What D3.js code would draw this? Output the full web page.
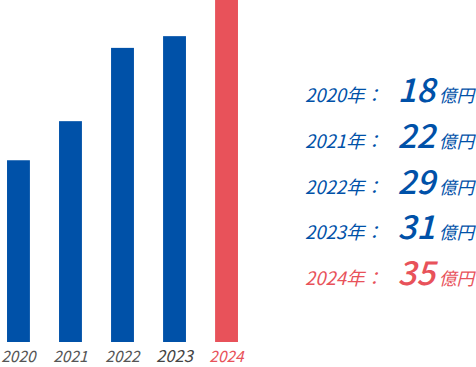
<!DOCTYPE html>
<html>
<head>
<meta charset="utf-8">
<script src="https://cdn.jsdelivr.net/npm/d3@7"></script>
<style>
  html, body { margin: 0; padding: 0; background: #fff; }
  svg { display: block; font-family: "Noto Sans CJK JP", "Noto Sans", sans-serif; }
</style>
</head>
<body>
<div id="chart"></div>
<script>
// dati
const years = ["2020", "2021", "2022", "2023", "2024"];
const values = [18, 22, 29, 31, 35];           // etichette a destra
const barValues = [18.6, 22.6, 30.1, 31.3, 35];
const unit = "億円";
const blue = "#0051a8", red = "#e8525a";
const barColors = [blue, blue, blue, blue, red];

const width = 476, height = 367;

const svg = d3.select("#chart")
    .append("svg")
    .attr("width", width)
    .attr("height", height);

// scale delle barre
const x = d3.scaleBand()
    .domain(years)
    .range([0, 245])
    .paddingInner(0.56)
    .paddingOuter(0.135);

const y = d3.scaleLinear()
    .domain([0, 35])
    .range([342, 0]);

// barre
svg.append("g")
    .selectAll("rect")
    .data(years)
    .join("rect")
    .attr("x", d => x(d))
    .attr("y", (d, i) => y(barValues[i]))
    .attr("width", x.bandwidth())
    .attr("height", (d, i) => y(0) - y(barValues[i]))
    .attr("fill", (d, i) => barColors[i]);

// etichette asse x
svg.append("g")
    .selectAll("text")
    .data(years)
    .join("text")
    .attr("x", d => x(d) + x.bandwidth() / 2)
    .attr("y", 362)
    .attr("text-anchor", "middle")
    .style("font-style", "italic")
    .style("font-size", (d, i) => i == 3 ? "16.5px" : "15.5px")
    .attr("fill", (d, i) => i == 4 ? red : (i == 3 ? "#444" : "#555"))
    .text(d => d);

// legenda a destra
const rowY = d3.scalePoint()
    .domain(years)
    .range([102, 285]);

const rows = svg.append("g")
    .selectAll("g")
    .data(years)
    .join("g")
    .attr("transform", d => `translate(0,${rowY(d)})`)
    .attr("fill", (d, i) => barColors[i]);

rows.append("text")
    .attr("x", 383)
    .attr("text-anchor", "end")
    .style("font-style", "italic")
    .style("font-size", "18.5px")
    .text(d => d + "年：");

rows.append("text")
    .attr("x", 435)
    .attr("text-anchor", "end")
    .style("font-style", "italic")
    .style("font-weight", "500")
    .style("font-size", "33px")
    .text((d, i) => values[i]);

rows.append("text")
    .attr("x", 439)
    .style("font-style", "italic")
    .style("font-size", "17.5px")
    .text(unit);
</script>
</body>
</html>
